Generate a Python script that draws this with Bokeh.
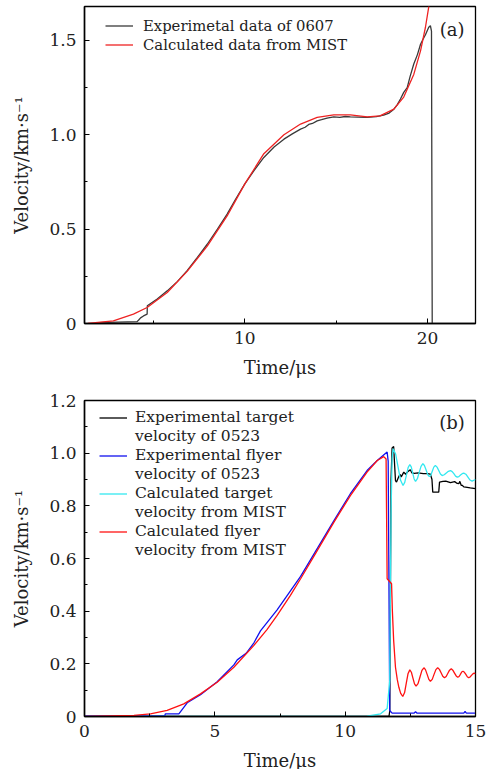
from bokeh.plotting import figure
from bokeh.layouts import column
from bokeh.models import (Range1d, FixedTicker, CustomJSTickFormatter,
                          Legend, LegendItem, Label)
from bokeh.embed import file_html
from bokeh.resources import INLINE

# ---------------- Panel (a) data ----------------
a_exp_t = [2.0, 4.1, 4.2, 4.29, 4.45, 4.65, 4.66, 5.2, 5.75, 6.3, 6.84, 7.4, 7.94, 8.5,
           9.03, 9.5, 10.0, 10.5, 11.04, 11.6, 12.14, 12.6, 13.05, 13.3, 13.5, 13.7,
           13.96, 14.2, 14.5, 14.87, 15.2, 15.5, 15.78, 16.2, 16.7, 17.2, 17.6, 17.9,
           18.16, 18.35, 18.52, 18.7, 18.89, 19.05, 19.25, 19.45, 19.62, 19.75, 19.89,
           20.07, 20.16, 20.22, 20.26]
a_exp_v = [0.005, 0.01, 0.02, 0.03, 0.04, 0.05, 0.094, 0.13, 0.173, 0.222, 0.28, 0.35,
           0.42, 0.5, 0.58, 0.66, 0.74, 0.81, 0.88, 0.935, 0.977, 1.005, 1.03, 1.04,
           1.055, 1.06, 1.074, 1.08, 1.088, 1.095, 1.092, 1.097, 1.095, 1.094, 1.092,
           1.096, 1.104, 1.115, 1.136, 1.16, 1.19, 1.225, 1.25, 1.31, 1.375, 1.425,
           1.48, 1.505, 1.53, 1.57, 1.578, 1.55, 0.0]

a_cal_t = [1.4, 2.8, 3.9, 4.65, 5.75, 6.84, 7.94, 9.03, 10.0, 11.04, 12.14, 13.05,
           13.96, 14.87, 15.78, 16.7, 17.4, 18.16, 18.7, 19.25, 19.62, 19.89, 20.07, 20.2]
a_cal_v = [0.0, 0.014, 0.05, 0.085, 0.164, 0.276, 0.41, 0.57, 0.74, 0.9, 1.0, 1.057,
           1.092, 1.106, 1.106, 1.095, 1.1, 1.136, 1.2, 1.32, 1.445, 1.57, 1.678, 1.85]

a_yticks = [0.0, 0.5, 1.0, 1.5]
a_yminor = [0.25, 0.75, 1.25]
a_xticks = [10, 20]
a_xminor = [5, 15]

# ---------------- Panel (b) data ----------------
b_exp_target_t = [0.0, 11.68, 11.71, 11.76, 11.8, 11.86, 11.9, 11.93, 11.97, 12.03, 12.1,
                  12.15, 12.25, 12.32, 12.4, 12.5, 12.56, 12.65, 12.8, 13.0, 13.15, 13.27,
                  13.33, 13.36, 13.59, 13.62, 13.75, 13.86, 14.04, 14.2, 14.3, 14.36, 14.4,
                  14.45, 14.49, 14.55, 14.62, 14.8, 15.0]
b_exp_target_v = [0.0, 0.0, 0.02, 0.9, 1.02, 1.025, 0.95, 0.896, 0.89, 0.905, 0.92,
                  0.91, 0.928, 0.92, 0.93, 0.937, 0.925, 0.923, 0.925, 0.922, 0.922, 0.92,
                  0.9, 0.852, 0.852, 0.89, 0.893, 0.894, 0.888, 0.892, 0.885, 0.884, 0.893,
                  0.878, 0.878, 0.872, 0.871, 0.868, 0.865]

b_exp_flyer_t = [0.0, 3.08, 3.1, 3.62, 3.94, 4.45, 5.09, 5.73, 5.86, 6.2, 6.5, 6.75, 7.39,
                 8.29, 9.57, 10.2, 10.84, 11.23, 11.61, 11.65, 11.71, 11.8, 12.65, 12.7,
                 12.75, 14.55, 14.6, 14.65, 15.0]
b_exp_flyer_v = [0.002, 0.002, 0.01, 0.01, 0.052, 0.083, 0.132, 0.196, 0.215, 0.24, 0.28,
                 0.325, 0.405, 0.532, 0.744, 0.846, 0.934, 0.972, 1.004, 0.97, 0.023,
                 0.013, 0.013, 0.018, 0.013, 0.013, 0.019, 0.013, 0.013]

b_cal_target_t = [0.0, 9.0, 10.84, 11.36, 11.61, 11.71, 11.76, 11.8, 11.84, 11.935, 12.03,
                  12.125, 12.22, 12.285, 12.35, 12.415, 12.48, 12.535, 12.59, 12.645, 12.7,
                  12.77, 12.84, 12.91, 12.98, 13.04, 13.105, 13.17, 13.23, 13.29, 13.345,
                  13.4, 13.46, 13.525, 13.59, 13.655, 13.72, 13.8, 13.88, 13.96, 14.04,
                  14.105, 14.17, 14.235, 14.3, 14.36, 14.425, 14.49, 14.55, 14.63, 14.71,
                  14.79, 14.87, 15.0]
b_cal_target_v = [0.0, 0.0, 0.001, 0.01, 0.03, 0.137, 0.77, 0.98, 1.017, 0.997, 0.947,
                  0.897, 0.877, 0.889, 0.917, 0.945, 0.957, 0.948, 0.925, 0.902, 0.893,
                  0.903, 0.927, 0.95, 0.96, 0.953, 0.936, 0.918, 0.911, 0.917, 0.932,
                  0.947, 0.953, 0.947, 0.934, 0.921, 0.915, 0.918, 0.925, 0.931, 0.934,
                  0.93, 0.922, 0.913, 0.909, 0.911, 0.917, 0.922, 0.924, 0.92, 0.909,
                  0.898, 0.894, 0.9]

b_cal_flyer_t = [0.0, 1.9, 2.53, 3.17, 3.81, 4.45, 5.09, 5.73, 6.5, 7.0, 7.39, 7.9, 8.29,
                 8.9, 9.57, 10.2, 10.84, 11.23, 11.48, 11.57, 11.61, 11.78, 11.81, 11.86,
                 11.93, 12.0, 12.06, 12.13, 12.21, 12.28, 12.345, 12.41, 12.48, 12.54,
                 12.6, 12.66, 12.72, 12.795, 12.87, 12.945, 13.02, 13.08, 13.145, 13.21,
                 13.27, 13.34, 13.41, 13.48, 13.55, 13.615, 13.68, 13.745, 13.81, 13.875,
                 13.94, 14.005, 14.07, 14.13, 14.195, 14.26, 14.32, 14.37, 14.42, 14.47,
                 14.52, 14.575, 14.63, 14.685, 14.74, 14.79, 14.845, 14.9, 14.95, 15.0]
b_cal_flyer_v = [0.0, 0.004, 0.01, 0.023, 0.048, 0.086, 0.13, 0.187, 0.27, 0.33, 0.384,
                 0.46, 0.523, 0.625, 0.738, 0.839, 0.928, 0.972, 0.987, 0.978, 0.523,
                 0.504, 0.403, 0.289, 0.187, 0.14, 0.111, 0.088, 0.076, 0.091, 0.127,
                 0.162, 0.177, 0.168, 0.146, 0.124, 0.115, 0.125, 0.15, 0.175, 0.185,
                 0.178, 0.16, 0.141, 0.134, 0.141, 0.16, 0.178, 0.185, 0.179, 0.166,
                 0.153, 0.147, 0.152, 0.164, 0.176, 0.181, 0.176, 0.165, 0.154, 0.149,
                 0.152, 0.16, 0.169, 0.172, 0.168, 0.16, 0.151, 0.147, 0.15, 0.156,
                 0.162, 0.165, 0.162]

b_yticks = [0.0, 0.2, 0.4, 0.6, 0.8, 1.0, 1.2]
b_yminor = [0.1, 0.3, 0.5, 0.7, 0.9, 1.1]
b_xticks = [0, 5, 10, 15]
b_xminor = [2.5, 7.5, 12.5]

FONT = "DejaVu Serif"
TXT = "#222222"


def style(p, xt, xm, yt, ym):
    p.xgrid.visible = False
    p.ygrid.visible = False
    p.outline_line_color = "black"
    p.outline_line_width = 1.3
    p.background_fill_color = "white"
    p.border_fill_color = "white"
    p.xaxis.ticker = FixedTicker(ticks=xt, minor_ticks=xm)
    p.yaxis.ticker = FixedTicker(ticks=yt, minor_ticks=ym)
    p.xaxis.formatter = CustomJSTickFormatter(code="return tick.toFixed(0);")
    p.yaxis.formatter = CustomJSTickFormatter(
        code="return Math.abs(tick) < 1e-9 ? '0' : tick.toFixed(1);")
    for ax in (p.xaxis[0], p.yaxis[0]):
        ax.axis_line_color = "black"
        ax.axis_line_width = 1.5
        ax.major_tick_in = 5
        ax.major_tick_out = 0
        ax.minor_tick_in = 3
        ax.minor_tick_out = 0
        ax.major_tick_line_color = "black"
        ax.minor_tick_line_color = "black"
        ax.major_label_text_font = FONT
        ax.major_label_text_font_size = "17px"
        ax.major_label_text_color = TXT
        ax.axis_label_text_font = FONT
        ax.axis_label_text_font_size = "18px"
        ax.axis_label_text_font_style = "normal"
        ax.axis_label_text_color = TXT
        ax.major_label_standoff = 8
    p.xaxis.axis_label = "Time/μs"
    p.yaxis.axis_label = "Velocity/km·s⁻¹"
    p.xaxis.axis_label_standoff = 10
    p.yaxis.axis_label_standoff = 14


# ---------------- Figure (a) ----------------
pa = figure(frame_width=391, frame_height=317, output_backend="svg", toolbar_location=None,
            x_range=Range1d(1.22, 22.63), y_range=Range1d(0, 1.68),
            min_border_left=84, min_border_right=16, min_border_top=6, min_border_bottom=57)
style(pa, a_xticks, a_xminor, a_yticks, a_yminor)
ra1 = pa.line(a_exp_t, a_exp_v, line_color="#3a3a3a", line_width=1.3)
ra2 = pa.line(a_cal_t, a_cal_v, line_color="#ee2222", line_width=1.3)
leg_a = Legend(items=[LegendItem(label="Experimetal data of 0607", renderers=[ra1]),
                      LegendItem(label="Calculated data from MIST", renderers=[ra2])],
               location=(21, 317 - 9.5 - 38), glyph_width=28, glyph_height=19,
               label_height=19, label_standoff=10, spacing=0, padding=0, margin=0,
               border_line_alpha=0, background_fill_alpha=0,
               label_text_font=FONT, label_text_font_size="14.8px",
               label_text_color=TXT)
pa.add_layout(leg_a)
pa.add_layout(Label(x=21.35, y=1.56, text="(a)", text_font=FONT, text_font_size="18px",
                    text_align="center", text_baseline="middle", text_color=TXT))

# ---------------- Figure (b) ----------------
pb = figure(frame_width=391, frame_height=316, output_backend="svg", toolbar_location=None,
            x_range=Range1d(0, 15), y_range=Range1d(0, 1.2),
            min_border_left=84, min_border_right=16, min_border_top=20, min_border_bottom=52)
style(pb, b_xticks, b_xminor, b_yticks, b_yminor)
rb1 = pb.line(b_exp_target_t, b_exp_target_v, line_color="black", line_width=1.3)
rb2 = pb.line(b_exp_flyer_t, b_exp_flyer_v, line_color="#1010ee", line_width=1.3)
rb3 = pb.line(b_cal_target_t, b_cal_target_v, line_color="#33e8f0", line_width=1.3)
rb4 = pb.line(b_cal_flyer_t, b_cal_flyer_v, line_color="#ff1111", line_width=1.3)
dummy = pb.line(x=[], y=[], line_alpha=0)

leg_b = Legend(items=[LegendItem(label="Experimental target", renderers=[rb1]),
                      LegendItem(label="velocity of 0523", renderers=[dummy]),
                      LegendItem(label="Experimental flyer", renderers=[rb2]),
                      LegendItem(label="velocity of 0523", renderers=[dummy]),
                      LegendItem(label="Calculated target", renderers=[rb3]),
                      LegendItem(label="velocity from MIST", renderers=[dummy]),
                      LegendItem(label="Calculated flyer", renderers=[rb4]),
                      LegendItem(label="velocity from MIST", renderers=[dummy])],
               location=(15, 316 - 7.8 - 152), glyph_width=28, glyph_height=19,
               label_height=19, label_standoff=8, spacing=0, padding=0, margin=0,
               border_line_alpha=0, background_fill_alpha=0,
               label_text_font=FONT, label_text_font_size="15.5px",
               label_text_color=TXT)
pb.add_layout(leg_b)
pb.add_layout(Label(x=14.1, y=1.118, text="(b)", text_font=FONT, text_font_size="18px",
                    text_align="center", text_baseline="middle", text_color=TXT))

layout = column(pa, pb, spacing=0)
open("out.html", "w").write(file_html(layout, INLINE))
